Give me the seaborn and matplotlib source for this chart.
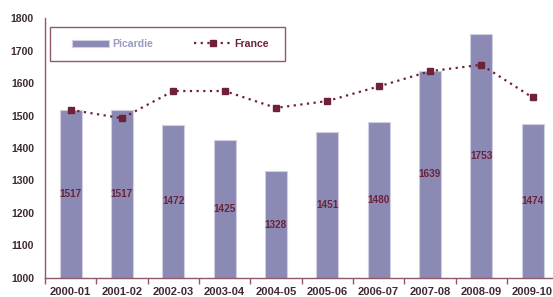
import matplotlib
matplotlib.use("Agg")
import matplotlib.pyplot as plt
import seaborn as sns
import numpy as np
from matplotlib.patches import Rectangle

seasons = ["2000-01", "2001-02", "2002-03", "2003-04", "2004-05",
           "2005-06", "2006-07", "2007-08", "2008-09", "2009-10"]
picardie = [1517, 1517, 1472, 1425, 1328, 1451, 1480, 1639, 1753, 1474]
france = [1518, 1492, 1576, 1576, 1524, 1545, 1590, 1637, 1657, 1556]

sns.set_style("white")
plt.rcParams["font.family"] = ["Liberation Sans", "DejaVu Sans"]
plt.rcParams["font.weight"] = "bold"

bar_color = "#8a8ab4"
line_color = "#6e2238"
spine_color = "#8e5a6a"
text_color = "#3e2a33"

fig = plt.figure(figsize=(5.53, 2.97), dpi=100)
ax = fig.add_axes([0.0814, 0.065, 0.928, 0.873])

sns.barplot(x=seasons, y=picardie, color=bar_color, width=0.43,
            edgecolor="#d0d0e2", linewidth=0.8, saturation=1,
            label="Picardie", ax=ax)
ax.plot(seasons, france, linestyle=(0, (1, 2)), linewidth=1.6,
        color=line_color, marker="s", markersize=4.5, label="France")

# value labels centred in each bar
for i, v in enumerate(picardie):
    ax.text(i, (1000 + v) / 2, str(v), ha="center", va="center",
            fontsize=7.2, fontweight="bold", color=line_color)

ax.set_ylim(1000, 1800)
ax.set_xlim(-0.5, len(seasons) - 0.5)
ax.set_yticks(np.arange(1000, 1801, 100))
ax.set_xticks(np.arange(len(seasons)))
ax.set_xticklabels(seasons)
ax.set_xticks(np.arange(len(seasons) + 1) - 0.5, minor=True)
ax.tick_params(axis="x", which="major", length=0, pad=7,
               labelsize=8, labelcolor=text_color)
ax.tick_params(axis="x", which="minor", length=4, width=1,
               color=spine_color, direction="out")
ax.tick_params(axis="y", length=4, width=1, color=spine_color,
               direction="out", pad=4, labelsize=7.5, labelcolor=text_color)
ax.tick_params(axis="x", bottom=True, which="both")
ax.set_xlabel("")
ax.set_ylabel("")

for side in ["top", "right"]:
    ax.spines[side].set_visible(False)
for side in ["left", "bottom"]:
    ax.spines[side].set_color(spine_color)
    ax.spines[side].set_linewidth(1)

# legend box drawn separately (wider padding left/right than top/bottom)
ax.add_patch(Rectangle((0.0097, 0.835), 0.458, 0.1315, transform=ax.transAxes,
                       facecolor="white", edgecolor=spine_color, linewidth=1,
                       zorder=4, clip_on=False))

handles, labels = ax.get_legend_handles_labels()
order = [labels.index("Picardie"), labels.index("France")]
leg = ax.legend([handles[i] for i in order], [labels[i] for i in order],
                loc="center left", bbox_to_anchor=(0.0526, 0.901), ncol=2,
                frameon=False, fontsize=7.6,
                handlelength=3.5, handletextpad=0.3, columnspacing=3.9,
                borderpad=0, borderaxespad=0)
leg.set_zorder(5)
leg.get_texts()[0].set_color("#9a9ac2")
leg.get_texts()[1].set_color(line_color)

fig.savefig("out.png", dpi=100)
